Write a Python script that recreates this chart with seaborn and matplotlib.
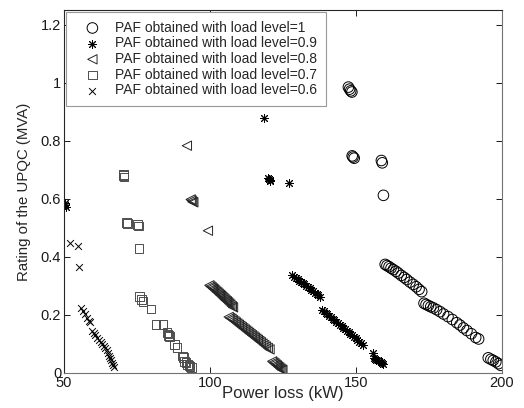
import matplotlib
matplotlib.use('Agg')
import matplotlib.pyplot as plt
import pandas as pd
import seaborn as sns

# PAF results for each load level: power loss (kW) vs UPQC rating (MVA)
loss_10 = [147.4, 147.8, 148.2, 148.6, 148.7, 149.0, 149.4, 158.7, 159.0, 159.4,
           160.0, 160.6, 161.3, 162.0, 162.8, 163.7, 164.5, 165.5, 166.5, 167.4,
           168.5, 169.6, 170.6, 171.6, 172.5,
           173.3, 174.0, 174.8, 175.6, 176.5, 177.6, 178.8, 180.0, 181.5, 183.0,
           184.5, 185.6, 186.8, 188.0, 189.5, 191.0, 192.0,
           195.3, 196.2, 197.0, 197.9, 198.8, 199.6]
rating_10 = [0.985, 0.978, 0.972, 0.968, 0.748, 0.744, 0.740, 0.732, 0.724, 0.612,
             0.374, 0.370, 0.366, 0.361, 0.356, 0.350, 0.344, 0.336, 0.329, 0.322,
             0.313, 0.305, 0.297, 0.288, 0.280,
             0.240, 0.236, 0.232, 0.228, 0.224, 0.218, 0.211, 0.203, 0.194, 0.184,
             0.173, 0.165, 0.155, 0.146, 0.135, 0.122, 0.117,
             0.052, 0.047, 0.043, 0.038, 0.032, 0.026]

loss_09 = [50.3, 50.5, 50.7, 118.4, 119.8, 120.1, 120.4, 120.6, 127.0,
           128.1, 128.8, 129.4, 130.0, 130.6, 131.1, 131.7, 132.3, 132.9, 133.5,
           134.1, 134.7, 135.3, 135.9, 136.5, 137.1, 137.7,
           138.4, 139.0, 139.6, 140.2, 140.8, 141.4, 142.0, 142.6, 143.3, 143.9,
           144.5, 145.1, 145.7, 146.3, 146.9, 147.5, 148.1, 148.7, 149.3, 149.9,
           150.5, 151.1, 151.7, 152.4,
           155.8, 156.1, 156.5, 157.0, 157.4, 157.9, 158.4, 158.9, 159.4]
rating_09 = [0.585, 0.578, 0.572, 0.877, 0.672, 0.668, 0.665, 0.662, 0.655,
             0.337, 0.330, 0.326, 0.322, 0.318, 0.314, 0.309, 0.305, 0.300, 0.296,
             0.291, 0.287, 0.282, 0.277, 0.273, 0.268, 0.263,
             0.217, 0.212, 0.207, 0.202, 0.197, 0.192, 0.187, 0.182, 0.176, 0.171,
             0.166, 0.161, 0.156, 0.150, 0.145, 0.140, 0.135, 0.130, 0.124, 0.119,
             0.113, 0.108, 0.102, 0.096,
             0.069, 0.052, 0.049, 0.046, 0.043, 0.040, 0.037, 0.034, 0.031]

loss_08 = [92.1, 93.4, 93.7, 94.0, 94.3, 99.3,
           99.8, 100.2, 100.6, 101.0, 101.4, 101.8, 102.2, 102.6, 103.0, 103.4,
           103.8, 104.2, 104.6, 105.0, 105.4, 105.8, 106.2, 106.6, 107.0, 107.5, 107.9,
           106.4, 106.9, 107.4, 107.9, 108.4, 108.9, 109.4, 109.9, 110.4, 110.9,
           111.4, 111.9, 112.4, 112.9, 113.4, 113.9, 114.4, 114.9, 115.4, 115.9,
           116.4, 116.9, 117.4, 118.0, 118.6, 119.2, 119.8, 120.4,
           121.3, 121.7, 122.1, 122.5, 122.9, 123.3, 123.7, 124.1, 124.5, 124.8]
rating_08 = [0.783, 0.598, 0.594, 0.590, 0.588, 0.490,
             0.302, 0.298, 0.295, 0.291, 0.288, 0.284, 0.280, 0.277, 0.273, 0.269,
             0.266, 0.262, 0.258, 0.254, 0.250, 0.247, 0.243, 0.239, 0.235, 0.230, 0.226,
             0.193, 0.189, 0.186, 0.182, 0.178, 0.174, 0.170, 0.166, 0.162, 0.158,
             0.154, 0.150, 0.146, 0.142, 0.138, 0.134, 0.130, 0.126, 0.122, 0.118,
             0.114, 0.110, 0.106, 0.101, 0.096, 0.091, 0.086, 0.081,
             0.040, 0.036, 0.033, 0.029, 0.026, 0.022, 0.019, 0.015, 0.012, 0.010]

loss_07 = [70.3, 70.5, 70.6, 71.4, 71.8, 75.2, 75.5, 75.7,
           76.0, 76.6, 77.1, 79.8, 81.5, 83.9, 85.3, 85.6, 85.9, 86.2, 87.9, 88.7,
           90.5, 90.9, 91.4, 91.8, 92.3, 92.8, 93.2, 93.7]
rating_07 = [0.685, 0.680, 0.675, 0.518, 0.514, 0.512, 0.506, 0.428,
             0.262, 0.252, 0.246, 0.220, 0.168, 0.168, 0.138, 0.134, 0.130, 0.126, 0.098, 0.087,
             0.058, 0.052, 0.040, 0.035, 0.030, 0.026, 0.022, 0.018]

loss_06 = [50.5, 52.1, 54.8, 55.1,
           55.8, 56.5, 57.2, 58.0, 58.6, 58.9, 59.6, 60.2, 60.8, 61.4, 62.0, 62.6,
           63.1, 63.6, 64.1, 64.6, 65.0, 65.4, 65.8, 66.2, 66.5, 66.8, 67.0]
rating_06 = [0.580, 0.447, 0.437, 0.365,
             0.222, 0.212, 0.203, 0.190, 0.180, 0.174, 0.143, 0.136, 0.129, 0.121, 0.114, 0.107,
             0.099, 0.092, 0.085, 0.078, 0.068, 0.060, 0.052, 0.043, 0.034, 0.026, 0.020]

levels = ['1', '0.9', '0.8', '0.7', '0.6']
x_ticks = [50, 100, 150, 200]
y_ticks = [0, 0.2, 0.4, 0.6, 0.8, 1.0, 1.2]
y_tick_labels = ['0', '0.2', '0.4', '0.6', '0.8', '1', '1.2']

series = {
    '1': (loss_10, rating_10),
    '0.9': (loss_09, rating_09),
    '0.8': (loss_08, rating_08),
    '0.7': (loss_07, rating_07),
    '0.6': (loss_06, rating_06),
}

# marker, size, open (edge only) or line art, colour
styles = {
    '1': ('o', 58, True, 'k'),
    '0.9': ((8, 2, 0), 34, False, 'k'),
    '0.8': ('<', 45, True, '0.15'),
    '0.7': ('s', 40, True, '0.3'),
    '0.6': ('x', 24, False, 'k'),
}

sns.set_style('ticks')
plt.rcParams['font.family'] = ['Liberation Sans', 'DejaVu Sans']

fig, ax = plt.subplots(figsize=(5.24, 4.08), dpi=100)
fig.subplots_adjust(left=0.122, right=0.958, bottom=0.086, top=0.975)

for level in levels:
    x, y = series[level]
    data = pd.DataFrame({'loss': x, 'rating': y})
    marker, size, is_open, col = styles[level]
    label = 'PAF obtained with load level={}'.format(level)
    if is_open:
        sns.scatterplot(data=data, x='loss', y='rating', marker=marker, s=size,
                        facecolor='none', edgecolor=col, linewidth=0.7, label=label, ax=ax)
    else:
        sns.scatterplot(data=data, x='loss', y='rating', marker=marker, s=size,
                        color=col, linewidth=0.7, label=label, ax=ax)

ax.set_xlim(50, 200)
ax.set_ylim(0, 1.25)
ax.set_xticks(x_ticks)
ax.set_xticklabels([str(t) for t in x_ticks])
ax.set_yticks(y_ticks)
ax.set_yticklabels(y_tick_labels)
ax.tick_params(direction='in', length=4, width=0.7, top=True, right=True,
               labelsize=10.5, pad=2, colors='0.1')
for side, spine in ax.spines.items():
    spine.set_color('0.15' if side in ('left', 'top') else '0.45')
    spine.set_linewidth(0.8)

ax.set_xlabel('Power loss (kW)', fontsize=12, labelpad=-3)
ax.set_ylabel('Rating of the UPQC (MVA)', fontsize=10.8, labelpad=7)

leg = ax.legend(loc='upper left', fontsize=10, frameon=True, fancybox=False,
                framealpha=1, edgecolor='0.6', borderaxespad=0.15, borderpad=0.6,
                labelspacing=0.12, handlelength=2.6, handletextpad=0.35)
leg.get_frame().set_linewidth(0.8)

fig.savefig('out.png', dpi=100)
